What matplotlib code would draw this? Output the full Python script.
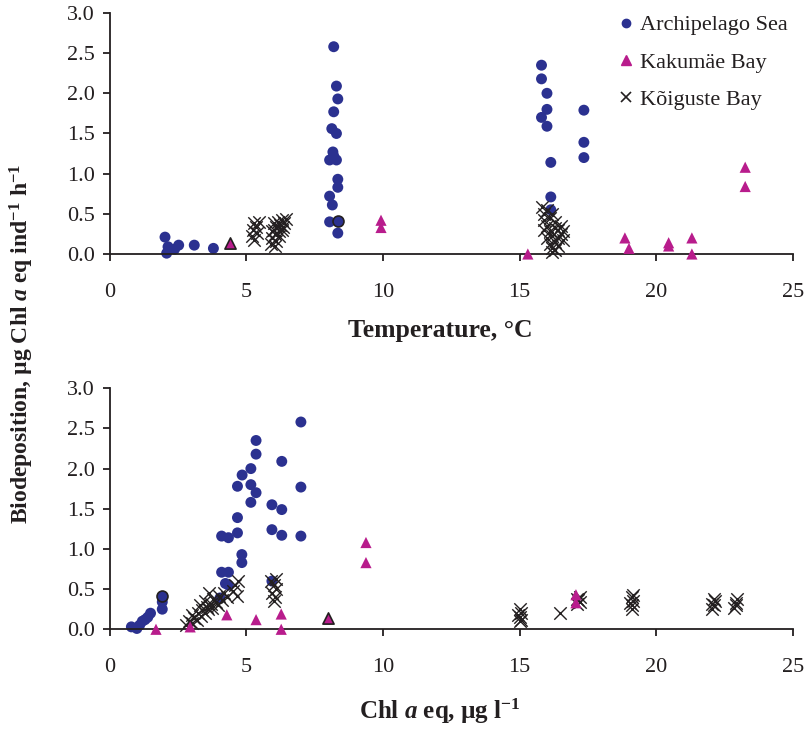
import matplotlib
matplotlib.use('Agg')
import matplotlib.pyplot as plt
from matplotlib.ticker import FormatStrFormatter

plt.rcParams['font.family'] = ['Liberation Serif', 'DejaVu Serif']
plt.rcParams['mathtext.fontset'] = 'custom'
plt.rcParams['mathtext.rm'] = 'Liberation Serif:bold'
plt.rcParams['mathtext.it'] = 'Liberation Serif:bold:italic'
plt.rcParams['mathtext.bf'] = 'Liberation Serif:bold'

# --- top panel: biodeposition vs temperature ---
arch_temp = [2.03, 2.09, 2.14, 2.38, 2.53, 3.1, 3.8,
             8.2, 8.3, 8.35, 8.2, 8.13, 8.3, 8.17, 8.05, 8.3, 8.2, 8.35, 8.35, 8.05, 8.15, 8.05, 8.35,
             15.8, 15.8, 16.0, 16.0, 15.8, 16.0, 16.14, 16.14, 16.14,
             17.35, 17.35, 17.35]
arch_temp_bio = [0.21, 0.01, 0.09, 0.06, 0.11, 0.11, 0.07,
                 2.58, 2.09, 1.93, 1.77, 1.56, 1.50, 1.27, 1.17, 1.17, 1.22, 0.93, 0.83, 0.72, 0.61, 0.40, 0.26,
                 2.35, 2.18, 2.0, 1.80, 1.70, 1.59, 1.14, 0.71, 0.55,
                 1.79, 1.39, 1.20]
arch_temp_edge = [(8.35, 0.41)]

kaku_temp = [9.93, 9.93, 15.3, 18.85, 19.0, 20.45, 20.45, 21.3, 21.3, 23.25, 23.25]
kaku_temp_bio = [0.42, 0.33, 0.0, 0.20, 0.07, 0.14, 0.10, 0.20, 0.0, 1.08, 0.84]
kaku_temp_edge = [(4.4, 0.14)]

koig_temp = [5.2, 5.25, 5.3, 5.35, 5.4, 5.3, 5.45,
             5.9, 5.95, 6.0, 6.0, 6.05, 6.1, 6.1, 6.15, 6.2, 6.2, 6.25, 6.3, 6.3, 6.35, 6.4, 6.45, 5.95, 6.05,
             15.8, 15.9, 16.0, 16.1, 15.9, 16.0, 16.2, 16.1, 16.3, 16.2, 16.3, 16.4, 16.2, 16.4, 16.5, 16.1,
             16.3, 16.5, 16.6, 16.4, 16.0, 16.2, 16.6, 16.3, 15.9]
koig_temp_bio = [0.22, 0.30, 0.38, 0.33, 0.26, 0.18, 0.40,
                 0.12, 0.20, 0.30, 0.38, 0.25, 0.16, 0.33, 0.40, 0.28, 0.22, 0.36, 0.30, 0.42, 0.34, 0.38, 0.44, 0.28, 0.10,
                 0.58, 0.50, 0.55, 0.45, 0.42, 0.35, 0.50, 0.28, 0.40, 0.22, 0.15, 0.30, 0.08, 0.20, 0.25, 0.12,
                 0.05, 0.35, 0.28, 0.10, 0.20, 0.02, 0.18, 0.32, 0.30]

# --- bottom panel: biodeposition vs Chl a ---
arch_chl = [0.8, 1.0, 1.1, 1.2, 1.3, 1.4, 1.5, 1.93, 1.93,
            4.1, 4.35, 4.1, 4.35, 4.35, 4.04, 4.24, 4.68, 4.68, 4.84, 4.84, 4.68, 4.85,
            5.17, 5.17, 5.36, 5.17, 5.36, 5.36, 5.94, 5.94, 6.3, 6.3, 6.3, 5.94,
            7.0, 7.0, 7.0]
arch_chl_bio = [0.03, 0.01, 0.05, 0.10, 0.12, 0.15, 0.20, 0.34, 0.25,
                1.16, 1.14, 0.71, 0.71, 0.55, 0.39, 0.57, 1.39, 1.20, 0.93, 0.83, 1.78, 1.92,
                2.0, 1.80, 1.70, 1.58, 2.35, 2.18, 1.55, 1.24, 1.49, 1.17, 2.09, 0.60,
                2.58, 1.77, 1.16]
arch_chl_edge = [(1.93, 0.41)]

kaku_chl = [1.7, 2.95, 4.29, 5.36, 6.28, 6.28, 9.38, 9.38, 17.06, 17.06]
kaku_chl_bio = [0.0, 0.03, 0.18, 0.12, 0.19, 0.0, 1.08, 0.83, 0.43, 0.33]
kaku_chl_edge = [(8.0, 0.14)]

koig_chl = [2.8, 2.9, 3.0, 3.1, 3.2, 3.25, 3.35, 3.4, 3.5, 3.55, 3.6, 3.7, 3.75, 3.8, 3.9, 3.95,
            4.0, 4.1, 4.2, 4.3, 4.5, 4.6, 4.7, 4.65, 3.3, 3.65, 3.0, 3.5,
            5.9, 6.0, 6.1, 5.95, 6.05, 6.0, 6.1,
            15.0, 15.0, 15.05, 15.0, 15.05, 14.95,
            16.47,
            17.1, 17.15, 17.2, 17.1, 17.2,
            19.1, 19.1, 19.15, 19.1, 19.15, 19.05,
            22.05, 22.1, 22.15, 22.1, 22.05,
            22.85, 22.9, 22.95, 22.9]
koig_chl_bio = [0.05, 0.10, 0.08, 0.14, 0.12, 0.20, 0.17, 0.24, 0.20, 0.28, 0.25, 0.32, 0.27, 0.38, 0.34, 0.30,
                0.42, 0.36, 0.45, 0.40, 0.48, 0.55, 0.60, 0.42, 0.30, 0.45, 0.18, 0.35,
                0.60, 0.55, 0.50, 0.45, 0.40, 0.35, 0.62,
                0.10, 0.15, 0.20, 0.25, 0.12, 0.18,
                0.20,
                0.32, 0.36, 0.40, 0.38, 0.34,
                0.25, 0.30, 0.35, 0.40, 0.43, 0.33,
                0.25, 0.30, 0.35, 0.38, 0.32,
                0.27, 0.33, 0.38, 0.30]

blue = '#2b3190'
magenta = '#b81c8c'
ink = '#231f20'

fig = plt.figure(figsize=(8.07, 7.29), dpi=100)
ax1 = fig.add_axes([0.1357, 0.6516, 0.847, 0.3306])
ax2 = fig.add_axes([0.1357, 0.1368, 0.847, 0.3306])


def draw(ax, ax_x, ax_y, ax_edge, kx, ky, k_edge, cx, cy):
    ax.scatter(cx, cy, marker='x', s=80, c=ink, linewidths=1.0, zorder=3, clip_on=False)
    ax.scatter(ax_x, ax_y, marker='o', s=62, c=blue, edgecolors='none', zorder=2, clip_on=False)
    ax.scatter(kx, ky, marker='^', s=65, c=magenta, edgecolors='none', zorder=4, clip_on=False)
    for px, py in ax_edge:
        ax.scatter(px, py, marker='o', s=62, c=blue, edgecolors=ink, linewidths=1.2, zorder=4, clip_on=False)
    for px, py in k_edge:
        ax.scatter(px, py, marker='^', s=65, c=magenta, edgecolors=ink, linewidths=1.2, zorder=4, clip_on=False)
    ax.set_xlim(0, 25)
    ax.set_ylim(0, 3.0)
    ax.set_xticks([0, 5, 10, 15, 20, 25])
    ax.set_yticks([0, 0.5, 1.0, 1.5, 2.0, 2.5, 3.0])
    ax.yaxis.set_major_formatter(FormatStrFormatter('%.1f'))
    for s in ['top', 'right']:
        ax.spines[s].set_visible(False)
    for s in ['left', 'bottom']:
        ax.spines[s].set_linewidth(1.3)
        ax.spines[s].set_color(ink)
    ax.tick_params(direction='out', length=5, width=1.3, color=ink,
                   labelsize=16, labelcolor=ink)
    ax.tick_params(axis='x', pad=16)
    ax.tick_params(axis='y', pad=5.5)


draw(ax1, arch_temp, arch_temp_bio, arch_temp_edge, kaku_temp, kaku_temp_bio, kaku_temp_edge,
     koig_temp, koig_temp_bio)
draw(ax2, arch_chl, arch_chl_bio, arch_chl_edge, kaku_chl, kaku_chl_bio, kaku_chl_edge,
     koig_chl, koig_chl_bio)

fig.text(0.545, 0.5377, 'Temperature, °C', ha='center', va='baseline',
         fontsize=18.5, fontweight='bold', color=ink)
fig.text(0.545, 0.0137, r'Chl $\it{a}$ eq, µg l$^{-1}$', ha='center', va='baseline',
         fontsize=18, fontweight='bold', color=ink)
fig.text(0.027, 0.529, r'Biodeposition, µg Chl $\it{a}$ eq ind$^{-1}$ h$^{-1}$',
         rotation=90, ha='center', va='center', fontsize=17, fontweight='bold', color=ink)

# legend
h1 = plt.Line2D([], [], marker='o', ls='', color=blue, markersize=6)
h2 = plt.Line2D([], [], marker='^', ls='', color=magenta, markersize=6.5)
h3 = plt.Line2D([], [], marker='x', ls='', color=ink, markersize=6.5, markeredgewidth=1.2)
ax1.legend([h1, h2, h3], ['Archipelago Sea', 'Kakumäe Bay', 'Kõiguste Bay'],
           loc='upper left', bbox_to_anchor=(0.713, 1.075), frameon=False, fontsize=16,
           handlelength=0.8, handletextpad=0.25, labelspacing=0.75, labelcolor=ink)

fig.savefig('out.png', dpi=100)
